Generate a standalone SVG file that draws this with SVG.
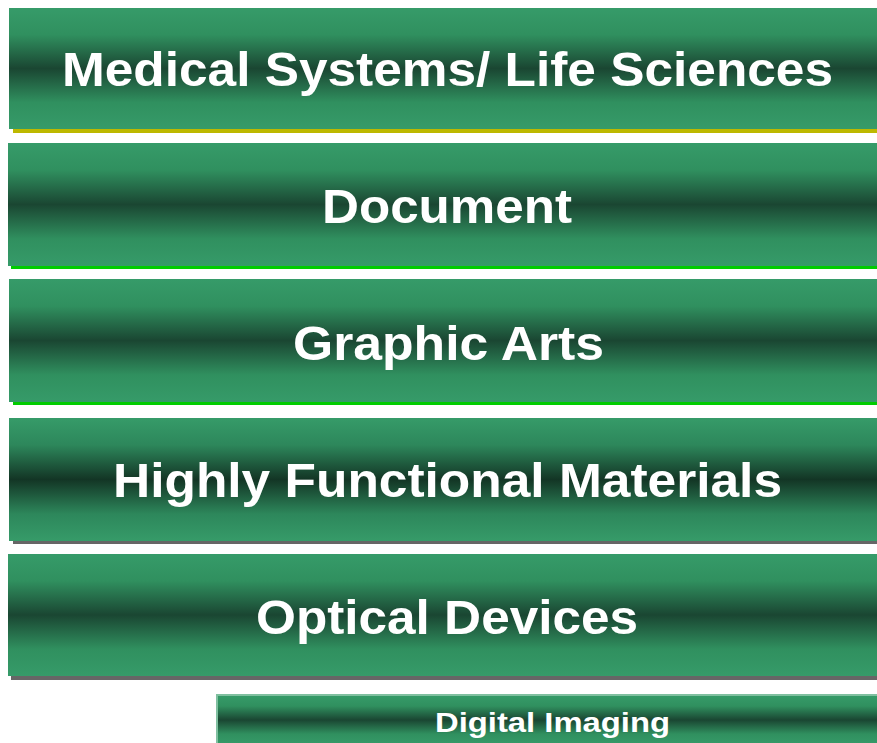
<svg xmlns="http://www.w3.org/2000/svg" width="877" height="743" viewBox="0 0 877 743">
<defs>
<linearGradient id="g" x1="0" y1="0" x2="0" y2="1">
<stop offset="0" stop-color="#369b69"/>
<stop offset="0.22" stop-color="#30905f"/>
<stop offset="0.5" stop-color="#1a4632"/>
<stop offset="0.78" stop-color="#30905f"/>
<stop offset="1" stop-color="#369b69"/>
</linearGradient>
<linearGradient id="g2" x1="0" y1="0" x2="0" y2="1">
<stop offset="0" stop-color="#369b69"/>
<stop offset="0.22" stop-color="#2d875b"/>
<stop offset="0.5" stop-color="#133525"/>
<stop offset="0.78" stop-color="#2d875b"/>
<stop offset="1" stop-color="#369b69"/>
</linearGradient>
</defs>
<style>
.bar{fill:url(#g);}
.t{font-family:"Liberation Sans",Arial,sans-serif;font-weight:bold;fill:#ffffff;text-anchor:middle;font-size:48px;}
.s{font-size:28px;}
</style>
<rect width="877" height="743" fill="#ffffff"/>
<g id="n1">
<rect x="13" y="129" width="864" height="4" fill="#bdb800"/>
<rect class="bar" x="9" y="8" width="868" height="121"/>
<text class="t" x="447.5" y="86" textLength="771" lengthAdjust="spacingAndGlyphs">Medical Systems/ Life Sciences</text>
</g>
<g id="n2">
<rect x="11" y="266" width="866" height="3" fill="#00cc00"/>
<rect class="bar" x="8" y="143" width="869" height="123"/>
<text class="t" x="447" y="223" textLength="250" lengthAdjust="spacingAndGlyphs">Document</text>
</g>
<g id="n3">
<rect x="13" y="402" width="864" height="3" fill="#00cc00"/>
<rect class="bar" x="9" y="279" width="868" height="123"/>
<text class="t" x="448.5" y="360" textLength="311" lengthAdjust="spacingAndGlyphs">Graphic Arts</text>
</g>
<g id="n4">
<rect x="13" y="541" width="864" height="3" fill="#666666"/>
<rect x="9" y="418" width="868" height="123" fill="url(#g2)"/>
<text class="t" x="447.5" y="497" textLength="669" lengthAdjust="spacingAndGlyphs">Highly Functional Materials</text>
</g>
<g id="n5">
<rect x="11" y="676" width="866" height="4" fill="#666666"/>
<rect class="bar" x="8" y="554" width="869" height="122"/>
<text class="t" x="447" y="634" textLength="382" lengthAdjust="spacingAndGlyphs">Optical Devices</text>
</g>
<g id="n6">
<rect class="bar" x="217" y="695" width="662" height="50" stroke="#80c0a0" stroke-width="2"/>
<text class="t s" x="552.5" y="732" textLength="235" lengthAdjust="spacingAndGlyphs">Digital Imaging</text>
</g>
<g id="connectors"></g>
</svg>
